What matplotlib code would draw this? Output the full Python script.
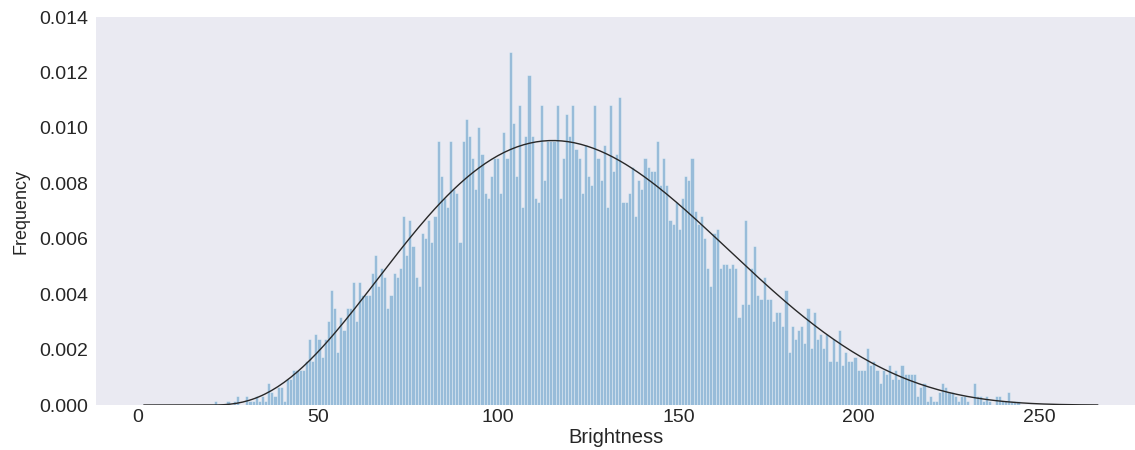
import math
import numpy as np
import matplotlib
matplotlib.use("Agg")
import matplotlib.pyplot as plt
import seaborn as sns

# histogram of brightness: bar counts, left to right
bin_lo, bin_hi = 21.2, 244.6
density_per_count = 0.000159   # height step of one count
counts = [
    1, 0, 0, 0, 1, 0, 1, 2, 0, 0, 2, 1, 1, 2, 1, 2, 1, 5, 3, 2,
    4, 4, 1, 6, 6, 8, 8, 8, 8, 10, 15, 10, 16, 15, 11, 15, 19, 26, 22, 12,
    20, 17, 22, 22, 28, 19, 28, 25, 25, 25, 30, 34, 27, 31, 29, 22, 25, 30, 29, 31,
    43, 34, 42, 36, 29, 27, 39, 38, 42, 37, 43, 60, 52, 47, 45, 60, 49, 48, 37, 60,
    65, 61, 56, 49, 63, 57, 48, 47, 52, 56, 56, 48, 62, 56, 80, 64, 52, 68, 45, 61,
    75, 61, 47, 46,
    68, 51, 60, 60, 60, 68, 47, 56, 66, 61, 68, 58, 56, 48, 59, 52, 50, 68, 56, 51,
    59, 45, 68, 53, 57, 70, 46, 46, 48, 54, 43, 51, 49, 56, 54, 53, 53, 60, 50, 56,
    50, 42, 41, 46, 40, 47, 52, 51, 56, 44, 41, 43, 38, 31, 27, 39, 40, 31, 32, 32, 31,
    32, 31, 20, 23, 42, 23, 31, 36, 25, 24, 29, 24, 24, 19, 21, 21, 18, 26, 12, 18,
    15, 17, 18, 14, 22, 13, 21, 15, 16, 13, 16, 10, 15, 10, 17, 9, 12, 10, 10, 11,
    8, 8, 8, 13, 9, 10, 8, 5, 8, 7, 9, 6, 8, 6, 9, 7, 7, 7, 7, 2,
    4, 5, 1, 2, 1, 1, 3, 5, 4, 3, 3, 2, 1, 2, 2, 1, 0, 5, 2, 2,
    1, 2, 1, 0, 2, 2, 1, 1, 3, 1, 1, 1,
]

# fitted beta curve (a, b, loc, scale) and the range it is drawn over
fit_a, fit_b = 3.8, 6.0
fit_loc, fit_scale = 20.0, 265.0
fit_lo, fit_hi = 1.75, 266.3

xticks = [0, 50, 100, 150, 200, 250]
yticks = [0.000, 0.002, 0.004, 0.006, 0.008, 0.010, 0.012, 0.014]

sns.set_style("dark")
plt.rcParams['font.family'] = ['Liberation Sans', 'DejaVu Sans']

fig = plt.figure(figsize=(11.35, 4.5), dpi=100)
ax = fig.add_axes([96 / 1135, 45 / 450, 1 - 96 / 1135, 388 / 450])

edges = np.linspace(bin_lo, bin_hi, len(counts) + 1)
centers = (edges[:-1] + edges[1:]) / 2
ax.hist(centers, bins=edges, weights=np.array(counts) * density_per_count,
        color='#1f77b4', alpha=0.4, edgecolor='white', linewidth=0.6)

xs = np.linspace(fit_lo, fit_hi, 300)
u = np.clip((xs - fit_loc) / fit_scale, 0, 1)
beta_fn = math.exp(math.lgamma(fit_a) + math.lgamma(fit_b) - math.lgamma(fit_a + fit_b))
pdf = u ** (fit_a - 1) * (1 - u) ** (fit_b - 1) / (beta_fn * fit_scale)
ax.plot(xs, pdf, color='#282828', lw=1)

ax.set_xlim(-11.5, 276.6)
ax.set_ylim(0, 0.014)
ax.set_xticks(xticks)
ax.set_yticks(yticks)
ax.tick_params(axis='both', labelsize=14, colors='#262626', length=0)
ax.tick_params(axis='y', pad=5.5)
ax.tick_params(axis='x', pad=3)
ax.set_xlabel('Brightness', fontsize=14.5, color='#262626', labelpad=1.5)
ax.set_ylabel('Frequency', fontsize=13, color='#262626', labelpad=7)
for s in ax.spines.values():
    s.set_visible(False)

fig.savefig('out.png', dpi=100)
